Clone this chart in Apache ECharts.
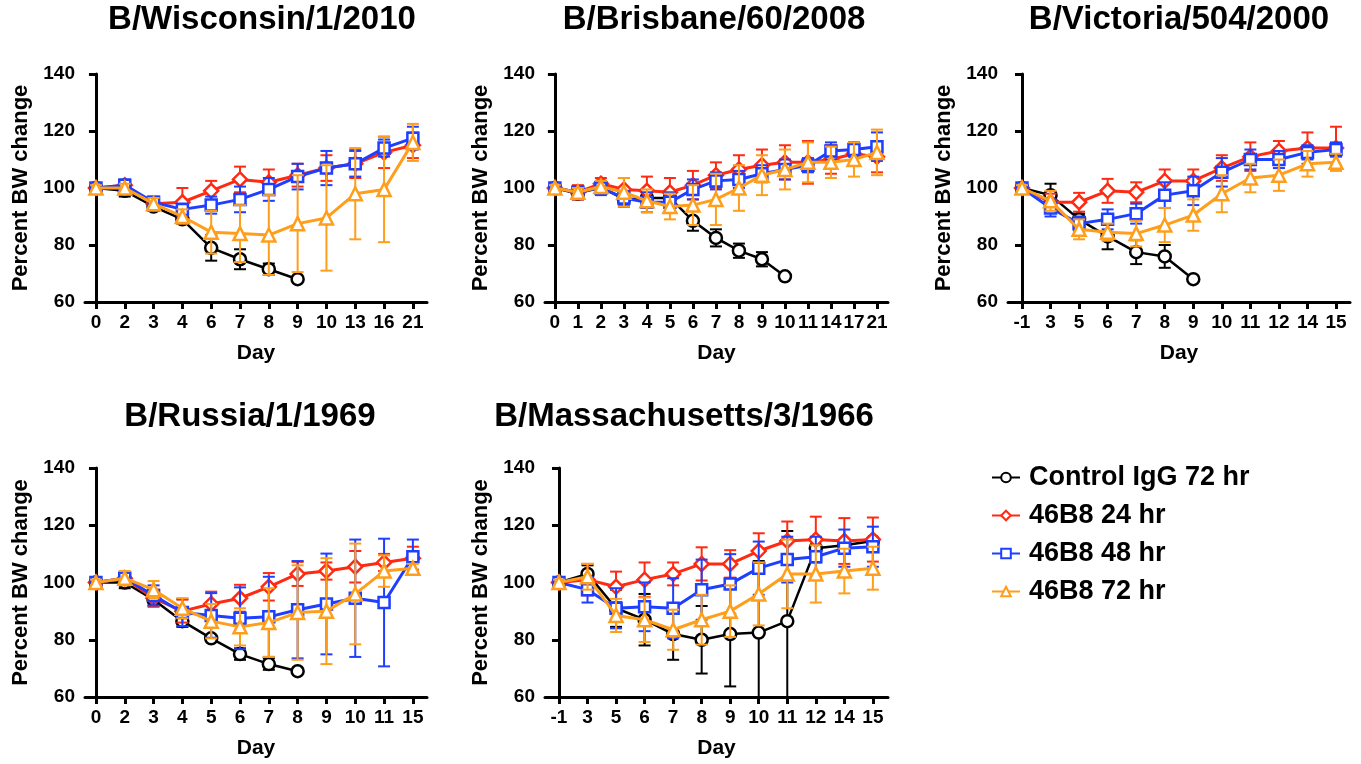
<!DOCTYPE html>
<html>
<head>
<meta charset="utf-8">
<script src="https://cdn.jsdelivr.net/npm/echarts@6/dist/echarts.min.js"></script>
<style>
  html, body { margin: 0; padding: 0; background: #fff; }
  #chart { width: 1361px; height: 764px; }
</style>
</head>
<body>
<div id="chart"></div>
<script>
// series names / colours
const seriesNames = ['Control IgG 72 hr', '46B8 24 hr', '46B8 48 hr', '46B8 72 hr']

// B/Wisconsin/1/2010
const wiscDays = ['0', '2', '3', '4', '6', '7', '8', '9', '10', '13', '16', '21']
const wiscCtrl = [100, 99, 93.5, 89, 79, 75, 71.5, 68, null, null, null, null]
const wiscCtrlErr = [0.5, 2, 1.5, 1.5, 4.5, 3.5, 2, 0, 0, 0, 0, 0]
const wisc24 = [100, 101, 94.5, 95, 99, 103, 102, 104.5, 107, 108.5, 112.5, 115]
const wisc24Err = [1, 1.5, 2.5, 5, 3.5, 4.5, 4.5, 4, 4.5, 5, 5.5, 4.5]
const wisc48 = [100, 101, 95, 92.5, 94, 96, 99.5, 104, 107, 108.5, 114, 117.5]
const wisc48Err = [1, 2, 1.5, 2, 3, 4.5, 4, 4.5, 6, 4.5, 3, 4]
const wisc72 = [100, 100, 94.5, 90, 84.5, 84, 83.5, 87.5, 89.5, 98, 99.5, 116]
const wisc72Err = [1, 1.5, 2, 2.5, 7.5, 10, 14, 17, 18.5, 16, 18.5, 6.5]

// B/Brisbane/60/2008
const brisDays = ['0', '1', '2', '3', '4', '5', '6', '7', '8', '9', '10', '11', '14', '17', '21']
const brisCtrl = [100, 98, 100.5, 96, 96.5, 96.5, 88.5, 82.5, 78, 75, 69, null, null, null, null]
const brisCtrlErr = [0.5, 2, 1.5, 2.5, 2, 1.5, 3.5, 3, 2.5, 2.5, 0, 0, 0, 0, 0]
const bris24 = [100, 98.5, 101.5, 99.5, 99, 98.5, 101, 104.5, 106.5, 108, 109, 109, 110, 112, 111]
const bris24Err = [1, 2.5, 2, 4, 5, 5, 5, 4.5, 5, 5.5, 6, 7.5, 5, 4, 5.5]
const bris48 = [100, 98.5, 100, 96.5, 95, 95, 99.5, 102.5, 103, 105, 106.5, 108, 113, 113.5, 114.5]
const bris48Err = [1, 2, 2.5, 2.5, 3.5, 3.5, 3.5, 3, 3, 3, 3.5, 2.5, 3, 2.5, 5]
const bris72 = [100, 98.5, 100.5, 98.5, 95.5, 93.5, 94, 96, 100, 104.5, 106.5, 109, 109, 110, 112.5]
const bris72Err = [1, 1.5, 2, 5, 4, 4.5, 7, 9, 8, 7, 7, 7, 5.5, 6, 8]

// B/Victoria/504/2000
const vicDays = ['-1', '3', '5', '6', '7', '8', '9', '10', '11', '12', '14', '15']
const vicCtrl = [100, 97.5, 89, 83, 77.5, 76, 68, null, null, null, null, null]
const vicCtrlErr = [0.5, 4, 2, 4.5, 4.2, 4, 0, 0, 0, 0, 0, 0]
const vic24 = [100, 95, 95, 99, 98.5, 102.5, 102.5, 107, 111, 113, 114, 114]
const vic24Err = [1, 3, 3.3, 4.2, 3.5, 4, 4, 4.5, 5, 3.5, 5.5, 7.5]
const vic48 = [100, 93, 87.5, 89, 91, 97.5, 99, 105.5, 110, 110, 112.5, 113.5]
const vic48Err = [1, 3, 2.5, 3.5, 3.5, 4.5, 5, 5, 3.5, 3, 2.5, 2.5]
const vic72 = [100, 95.5, 85.5, 84.5, 84, 87, 90.5, 98, 103.5, 104.5, 108.5, 109]
const vic72Err = [1, 3.5, 3.5, 3, 4.5, 6, 5.5, 6.5, 5, 5.5, 4.5, 3]

// B/Russia/1/1969
const rusDays = ['0', '2', '3', '4', '5', '6', '7', '8', '9', '10', '11', '15']
const rusCtrl = [100, 100, 94, 86.5, 80.5, 75, 71.5, 69, null, null, null, null]
const rusCtrlErr = [0.5, 2, 2, 2, 1, 2, 2, 0, 0, 0, 0, 0]
const rus24 = [100, 101.5, 94.5, 90, 92.5, 94.5, 98.5, 103, 104, 105.5, 107, 108.5]
const rus24Err = [1, 2, 3, 4, 4.3, 4.7, 4.8, 4.2, 3, 5.5, 3, 4]
const rus48 = [100, 101.5, 95.5, 89.5, 88.5, 87.5, 88, 90.5, 92.5, 94.5, 93, 109]
const rus48Err = [1, 2, 3.5, 4.8, 7.8, 10.8, 14, 17, 17.6, 20.5, 22.3, 6]
const rus72 = [100, 101.5, 97.5, 91, 86.5, 84.5, 86, 89.5, 90, 96, 104, 105]
const rus72Err = [1, 2.5, 3, 3.5, 6, 6.5, 12, 16.5, 18.5, 17.6, 5.5, 1.5]

// B/Massachusetts/3/1966
const massDays = ['-1', '3', '5', '6', '7', '8', '9', '10', '11', '12', '14', '15']
const massCtrl = [100, 103, 91, 87, 82, 80, 82, 82.5, 86.5, 112, 113, 114.5]
const massCtrlErr = [0.5, 3, 6.5, 9, 9, 11.8, 18.3, 25, 31.5, 1, 1, 1]
const mass24 = [100, 101, 98.5, 101, 103, 106.5, 106.5, 111, 114.5, 115, 114.5, 115]
const mass24Err = [1, 5.5, 5.3, 6, 4, 5.8, 4.8, 6.2, 6.8, 8, 8, 7.7]
const mass48 = [100, 97.5, 91, 91.5, 91, 97.5, 99.5, 105, 108, 109, 112, 112.5]
const mass48Err = [1, 4.5, 7, 8.5, 10.5, 10.5, 10.4, 9.3, 8, 7, 6.5, 7]
const mass72 = [100, 102, 88.5, 87, 83.5, 87, 90, 96, 103, 103, 104, 105]
const mass72Err = [1, 4.5, 5.8, 7.8, 7, 8.7, 9, 11, 12, 10, 7.8, 7.5]

const FONT = '"Liberation Sans", Arial, sans-serif'
const colors = ['#000000', '#FF2A12', '#1E3FFF', '#FF9E1B']
const symbols = ['circle', 'diamond', 'rect', 'triangle']
const symbolSizes = [12, 14, 11, 13]

// panel layout (pixel boxes) and axis extents in index units
const panels = [
  { title: 'B/Wisconsin/1/2010', tx: 262, ty: 20, days: wiscDays,
    box: [85, 74, 342, 228], xr: [-0.38, 11.49],
    vals: [wiscCtrl, wisc24, wisc48, wisc72], errs: [wiscCtrlErr, wisc24Err, wisc48Err, wisc72Err] },
  { title: 'B/Brisbane/60/2008', tx: 714, ty: 20, days: brisDays,
    box: [545, 74, 343, 228], xr: [-0.43, 14.48],
    vals: [brisCtrl, bris24, bris48, bris72], errs: [brisCtrlErr, bris24Err, bris48Err, bris72Err] },
  { title: 'B/Victoria/504/2000', tx: 1179, ty: 20, days: vicDays,
    box: [1008, 74, 342, 228], xr: [-0.49, 11.49],
    vals: [vicCtrl, vic24, vic48, vic72], errs: [vicCtrlErr, vic24Err, vic48Err, vic72Err] },
  { title: 'B/Russia/1/1969', tx: 250, ty: 417, days: rusDays,
    box: [85, 468, 342, 229], xr: [-0.38, 11.49],
    vals: [rusCtrl, rus24, rus48, rus72], errs: [rusCtrlErr, rus24Err, rus48Err, rus72Err] },
  { title: 'B/Massachusetts/3/1966', tx: 684, ty: 417, days: massDays,
    box: [545, 468, 343, 229], xr: [-0.49, 11.53],
    vals: [massCtrl, mass24, mass48, mass72], errs: [massCtrlErr, mass24Err, mass48Err, mass72Err] },
]

// error bar drawing
const errRender = (color) => (params, api) => {
  const x = api.value(0)
  const m = api.value(1)
  const e = api.value(2)
  if (!e) return
  const top = api.coord([x, m + e])
  const bot = api.coord([x, m - e])
  const w = 6
  const st = { stroke: color, lineWidth: 2 }
  return {
    type: 'group',
    children: [
      { type: 'line', shape: { x1: top[0], y1: top[1], x2: bot[0], y2: bot[1] }, style: st },
      { type: 'line', shape: { x1: top[0] - w, y1: top[1], x2: top[0] + w, y2: top[1] }, style: st },
      { type: 'line', shape: { x1: bot[0] - w, y1: bot[1], x2: bot[0] + w, y2: bot[1] }, style: st },
    ],
  }
}

const grid = []
const xAxis = []
const yAxis = []
const series = []
const graphic = []

panels.forEach((p, pi) => {
  grid.push({ left: p.box[0], top: p.box[1], width: p.box[2], height: p.box[3] })
  const idx = p.days.map((d, i) => i)
  xAxis.push({
    gridIndex: pi,
    type: 'value',
    min: p.xr[0],
    max: p.xr[1],
    name: 'Day',
    nameLocation: 'middle',
    nameGap: 41,
    nameTextStyle: { fontFamily: FONT, fontWeight: 'bold', fontSize: 21, color: '#000' },
    axisLine: { show: true, lineStyle: { color: '#000', width: 3 } },
    axisTick: { show: true, customValues: idx, length: 7, lineStyle: { color: '#000', width: 3 } },
    axisLabel: {
      customValues: idx,
      margin: 11,
      formatter: (v) => p.days[Math.round(v)],
      fontFamily: FONT, fontWeight: 'bold', fontSize: 19, color: '#000',
    },
    splitLine: { show: false },
  })
  yAxis.push({
    gridIndex: pi,
    type: 'value',
    min: 60,
    max: 140,
    interval: 20,
    name: 'Percent BW change',
    nameLocation: 'middle',
    nameGap: 53,
    nameTextStyle: { fontFamily: FONT, fontWeight: 'bold', fontSize: 22, color: '#000' },
    axisLine: { show: true, lineStyle: { color: '#000', width: 3 } },
    axisTick: { show: true, length: 7, lineStyle: { color: '#000', width: 3 } },
    axisLabel: {
      margin: 10,
      fontFamily: FONT, fontWeight: 'bold', fontSize: 19, color: '#000',
    },
    splitLine: { show: false },
  })
  graphic.push({
    type: 'text', x: p.tx, y: p.ty,
    style: { text: p.title, textAlign: 'center', textVerticalAlign: 'middle',
      font: 'bold 33px ' + FONT, fill: '#000' },
  })

  p.vals.forEach((vals, si) => {
    const errData = []
    const lineData = []
    vals.forEach((v, i) => {
      if (v == null) return
      errData.push([i, v, p.errs[si][i]])
      lineData.push([i, v])
    })
    series.push({
      type: 'custom',
      name: 'err' + pi + '_' + si,
      xAxisIndex: pi,
      yAxisIndex: pi,
      clip: true,
      z: 2 + si * 2,
      renderItem: errRender(colors[si]),
      data: errData,
    })
    series.push({
      type: 'line',
      name: seriesNames[si],
      xAxisIndex: pi,
      yAxisIndex: pi,
      z: 3 + si * 2,
      symbol: symbols[si],
      symbolSize: symbolSizes[si],
      showAllSymbol: true,
      lineStyle: { color: colors[si], width: si === 0 ? 2.5 : 3 },
      itemStyle: { color: '#fff', borderColor: colors[si], borderWidth: 2.5 },
      data: lineData,
    })
  })
})

const chart = echarts.init(document.getElementById('chart'))
chart.setOption({
  animation: false,
  backgroundColor: '#fff',
  grid,
  xAxis,
  yAxis,
  series,
  graphic,
  legend: {
    orient: 'vertical',
    left: 986,
    top: 459,
    itemWidth: 28,
    itemHeight: 12,
    itemGap: 11,
    selectedMode: false,
    data: seriesNames,
    textStyle: { fontFamily: FONT, fontWeight: 'bold', fontSize: 27, lineHeight: 27, color: '#000', padding: [0, 0, 0, 4] },
  },
})
</script>
</body>
</html>
